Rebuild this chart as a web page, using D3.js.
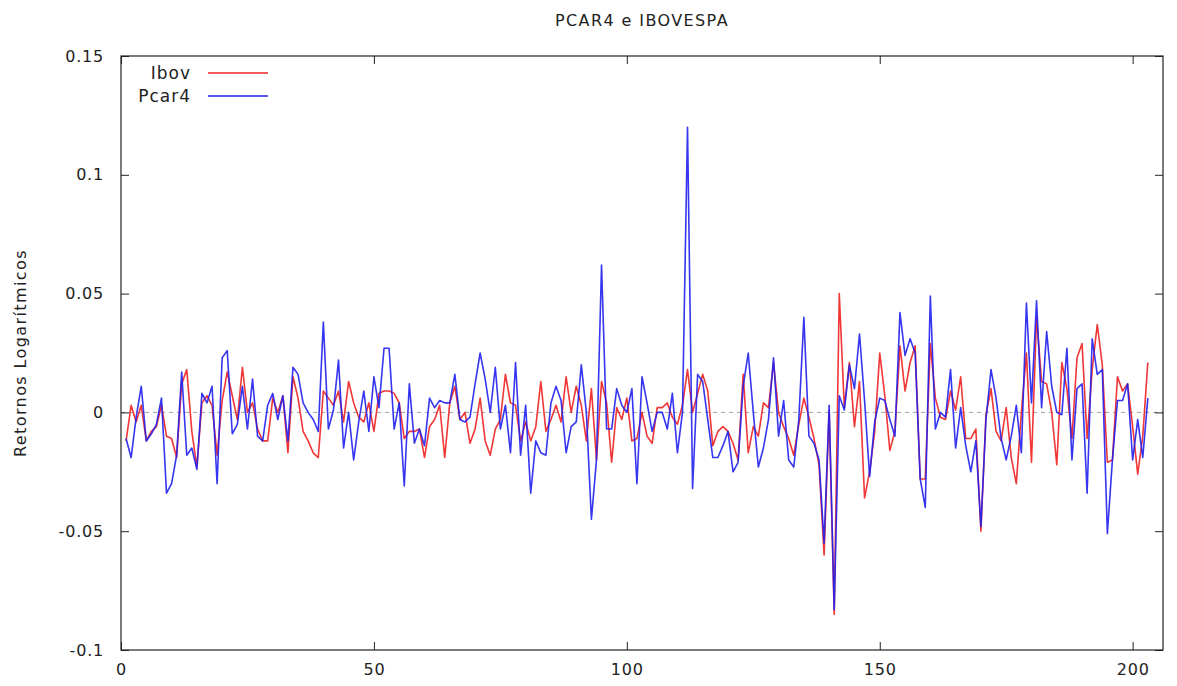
<!DOCTYPE html>
<html>
<head>
<meta charset="utf-8">
<script src="https://cdn.jsdelivr.net/npm/d3@7"></script>
<style>
  body { margin: 0; background: #fff; }
  text { font-family: "DejaVu Sans", Verdana, sans-serif; fill: #222; }
</style>
</head>
<body>
<svg id="chart" width="1177" height="686"></svg>
<script>
// log returns, one per trading day (index 1..203)
const ibov = [
  -0.012, 0.003, -0.004, 0.003, -0.012, -0.008, -0.006, 0.003, -0.010, -0.011,
  -0.019, 0.012, 0.018, -0.008, -0.023, 0.004, 0.007, 0.003, -0.018, 0.005,
  0.017, 0.007, -0.003, 0.019, 0.000, 0.004, -0.007, -0.012, -0.012, 0.006,
  0.000, 0.007, -0.017, 0.015, 0.006, -0.008, -0.012, -0.017, -0.019, 0.009,
  0.006, 0.003, 0.009, -0.004, 0.013, 0.004, -0.002, -0.004, 0.004, -0.008,
  0.008, 0.009, 0.009, 0.008, 0.004, -0.011, -0.008, -0.008, -0.007, -0.019,
  -0.006, -0.003, 0.003, -0.019, 0.004, 0.011, -0.003, 0.000, -0.013, -0.007,
  0.006, -0.012, -0.018, -0.007, -0.003, 0.016, 0.004, 0.003, -0.012, -0.004,
  -0.012, -0.006, 0.013, -0.008, -0.003, 0.003, -0.004, 0.015, 0.000, 0.011,
  0.003, -0.012, 0.010, -0.020, 0.013, 0.004, -0.021, 0.002, -0.003, 0.006,
  -0.012, -0.011, 0.000, -0.010, -0.013, 0.002, 0.002, 0.004, -0.002, -0.005,
  0.003, 0.018, 0.000, 0.008, 0.016, 0.009, -0.014, -0.008, -0.006, -0.008,
  -0.013, -0.020, 0.016, -0.017, -0.006, -0.010, 0.004, 0.002, 0.021, 0.000,
  -0.006, -0.011, -0.018, -0.005, 0.006, -0.002, -0.011, -0.022, -0.060, 0.001,
  -0.085, 0.050, 0.002, 0.021, -0.006, 0.013, -0.036, -0.025, -0.008, 0.025,
  0.007, -0.016, -0.008, 0.028, 0.009, 0.021, 0.028, -0.028, -0.028, 0.029,
  0.006, -0.002, -0.003, 0.009, 0.001, 0.015, -0.011, -0.011, -0.007, -0.050,
  -0.001, 0.010, -0.008, -0.012, 0.002, -0.019, -0.030, 0.000, 0.025, -0.021,
  0.040, 0.013, 0.012, 0.000, -0.022, 0.021, 0.010, -0.011, 0.023, 0.029,
  -0.011, 0.018, 0.037, 0.020, -0.021, -0.020, 0.015, 0.009, 0.012, -0.006,
  -0.026, -0.010, 0.021
];

const pcar4 = [
  -0.011, -0.019, -0.002, 0.011, -0.012, -0.009, -0.005, 0.006, -0.034, -0.030,
  -0.018, 0.017, -0.018, -0.015, -0.024, 0.008, 0.004, 0.011, -0.030, 0.023,
  0.026, -0.009, -0.005, 0.011, -0.007, 0.014, -0.010, -0.012, 0.003, 0.008,
  -0.003, 0.007, -0.012, 0.019, 0.016, 0.004, 0.000, -0.003, -0.008, 0.038,
  -0.007, 0.001, 0.022, -0.015, 0.000, -0.020, -0.004, 0.009, -0.008, 0.015,
  0.002, 0.027, 0.027, -0.007, 0.004, -0.031, 0.012, -0.013, -0.007, -0.014,
  0.006, 0.002, 0.005, 0.004, 0.004, 0.016, -0.003, -0.004, -0.002, 0.012,
  0.025, 0.014, 0.000, 0.019, -0.007, 0.003, -0.017, 0.021, -0.018, 0.003,
  -0.034, -0.012, -0.017, -0.018, 0.004, 0.011, 0.005, -0.017, -0.006, -0.004,
  0.020, 0.000, -0.045, -0.020, 0.062, -0.007, -0.007, 0.010, 0.003, 0.000,
  0.010, -0.030, 0.015, 0.004, -0.008, 0.000, 0.000, -0.007, 0.008, -0.017,
  0.000, 0.120, -0.032, 0.016, 0.013, -0.003, -0.019, -0.019, -0.014, -0.008,
  -0.025, -0.021, 0.011, 0.025, 0.000, -0.023, -0.015, -0.003, 0.023, -0.010,
  0.005, -0.020, -0.023, -0.003, 0.040, -0.010, -0.013, -0.020, -0.055, 0.003,
  -0.083, 0.007, 0.001, 0.020, 0.010, 0.033, 0.005, -0.027, -0.004, 0.006,
  0.005, -0.003, -0.010, 0.042, 0.024, 0.031, 0.025, -0.028, -0.040, 0.049,
  -0.007, 0.000, -0.002, 0.018, -0.015, 0.002, -0.014, -0.025, -0.012, -0.048,
  -0.003, 0.018, 0.006, -0.011, -0.020, -0.010, 0.003, -0.017, 0.046, 0.004,
  0.047, 0.002, 0.034, 0.011, 0.000, -0.001, 0.027, -0.020, 0.010, 0.012,
  -0.034, 0.031, 0.016, 0.018, -0.051, -0.020, 0.005, 0.005, 0.012, -0.020,
  -0.003, -0.019, 0.006
];

const xTicks = [0, 50, 100, 150, 200];
const yTicks = [-0.1, -0.05, 0, 0.05, 0.1, 0.15];
const seriesNames = ["Ibov", "Pcar4"];
const seriesColors = ["#f02020", "#2020f0"];

const svg = d3.select("#chart");
const margin = {top: 56, right: 14, bottom: 36, left: 121};
const W = 1177, H = 686;
const innerW = W - margin.left - margin.right;
const innerH = H - margin.top - margin.bottom;

const x = d3.scaleLinear().domain([0, 206]).range([margin.left, margin.left + innerW]);
const y = d3.scaleLinear().domain([-0.1, 0.15]).range([margin.top + innerH, margin.top]);

// zero reference
svg.append("line")
    .attr("x1", x(0)).attr("x2", x(206))
    .attr("y1", y(0)).attr("y2", y(0))
    .attr("stroke", "#a0a0a0").attr("stroke-width", 1)
    .attr("stroke-dasharray", "4,4");

// series
const line = d3.line()
    .x((d, i) => x(i + 1))
    .y(d => y(d));

[ibov, pcar4].forEach((s, k) => {
    svg.append("path")
        .datum(s)
        .attr("fill", "none")
        .attr("stroke", seriesColors[k])
        .attr("stroke-width", 1.6)
        .attr("stroke-linejoin", "round")
        .attr("opacity", 0.9)
        .attr("d", line);
});

// axes - ticks inward, mirrored like gnuplot; plain hyphen for negatives
const fmtY = d => String(+d.toFixed(2));
svg.append("g")
    .attr("transform", `translate(0,${y(-0.1)})`)
    .call(d3.axisBottom(x).tickValues(xTicks).tickSize(-8).tickPadding(14))
    .call(g => g.select(".domain").remove());
svg.append("g")
    .attr("transform", `translate(0,${y(0.15)})`)
    .call(d3.axisTop(x).tickValues(xTicks).tickSize(-8).tickFormat(""))
    .call(g => g.select(".domain").remove());
svg.append("g")
    .attr("transform", `translate(${x(0)},0)`)
    .call(d3.axisLeft(y).tickValues(yTicks).tickSize(-8).tickPadding(17).tickFormat(fmtY))
    .call(g => g.select(".domain").remove());
svg.append("g")
    .attr("transform", `translate(${x(206)},0)`)
    .call(d3.axisRight(y).tickValues(yTicks).tickSize(-8).tickFormat(""))
    .call(g => g.select(".domain").remove());

svg.selectAll(".tick text").attr("font-size", 16).attr("fill", "#222")
    .attr("letter-spacing", 0.8)
    .attr("font-family", "DejaVu Sans, Verdana, sans-serif");
svg.selectAll(".tick line").attr("stroke", "#222");

// frame
svg.append("rect")
    .attr("x", x(0)).attr("y", y(0.15))
    .attr("width", x(206) - x(0)).attr("height", y(-0.1) - y(0.15))
    .attr("fill", "none").attr("stroke", "#222").attr("stroke-width", 1.2);

// title
svg.append("text")
    .attr("x", (x(0) + x(206)) / 2).attr("y", 26)
    .attr("text-anchor", "middle").attr("font-size", 16)
    .attr("letter-spacing", 1.4)
    .text("PCAR4 e IBOVESPA");

// y label
svg.append("text")
    .attr("transform", `translate(26,${(y(0.15) + y(-0.1)) / 2}) rotate(-90)`)
    .attr("text-anchor", "middle").attr("font-size", 16)
    .attr("letter-spacing", 1.4)
    .text("Retornos Logarítmicos");

// legend
const legend = svg.append("g");
seriesNames.forEach((name, k) => {
    const ly = 73 + k * 23;
    legend.append("text")
        .attr("x", 191).attr("y", ly + 6)
        .attr("text-anchor", "end").attr("font-size", 17)
        .attr("letter-spacing", 1)
        .text(name);
    legend.append("line")
        .attr("x1", 208).attr("x2", 268)
        .attr("y1", ly).attr("y2", ly)
        .attr("stroke", seriesColors[k]).attr("stroke-width", 1.6);
});
</script>
</body>
</html>
